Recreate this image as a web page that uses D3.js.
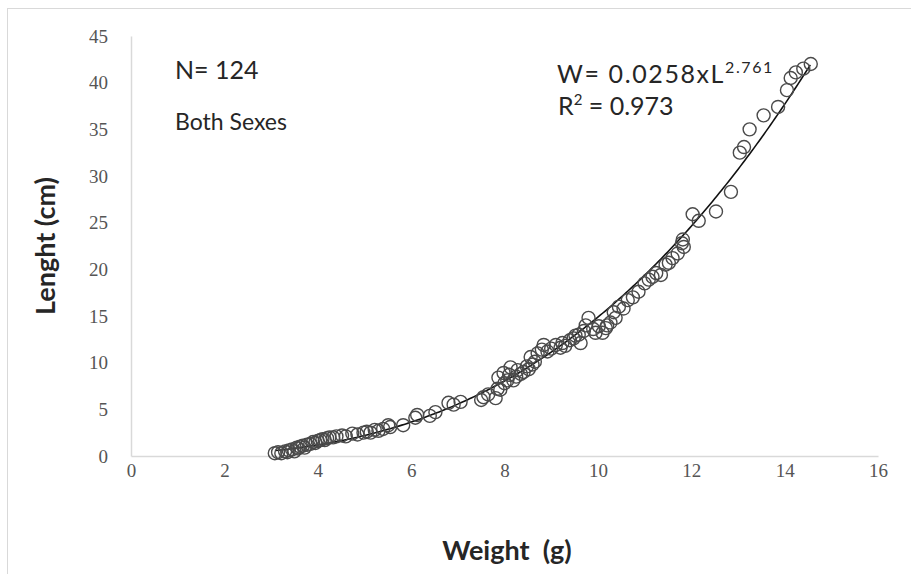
<!DOCTYPE html>
<html>
<head>
<meta charset="utf-8">
<script src="https://cdn.jsdelivr.net/npm/d3@7/dist/d3.min.js"></script>
<style>
  body { margin: 0; background: #fff; }
  svg { display: block; }
</style>
</head>
<body>
<svg class="chart"></svg>
<script>

// weight (g) of each fish
var weights = [
    3.08, 3.15, 3.22, 3.30, 3.35, 3.38, 3.45, 3.50, 3.55, 3.58, 3.62, 3.68, 3.72, 3.77,
    3.84, 3.90, 3.95, 4.00, 4.05, 4.10, 4.15, 4.20, 4.25, 4.33, 4.40, 4.52, 4.60, 4.74, 4.85,
    4.98, 5.05, 5.13, 5.22, 5.30, 5.40, 5.51, 5.55, 5.83, 6.09, 6.13, 6.40, 6.52, 6.80,
    6.91, 7.06, 7.50, 7.55, 7.65, 7.81,
    7.85, 7.91, 7.87, 7.98, 8.00, 8.06, 8.10, 8.13, 8.19, 8.25, 8.28, 8.35, 8.41, 8.48,
    8.52, 8.56, 8.60, 8.65, 8.71, 8.80, 8.84, 8.92, 9.00, 9.10, 9.20, 9.24, 9.30, 9.40,
    9.48, 9.52, 9.59, 9.63, 9.70, 9.74, 9.80, 9.90, 9.95, 10.02, 10.10, 10.17, 10.20,
    10.27, 10.34, 10.38, 10.45, 10.55,
    10.64, 10.75, 10.87, 11.00, 11.09, 11.17, 11.25, 11.35, 11.45, 11.52, 11.60, 11.71,
    11.80, 11.84, 11.82, 12.03, 12.16, 12.53,
    12.85, 13.04, 13.13, 13.25, 13.55, 13.86, 14.05, 14.13, 14.24, 14.40, 14.56
];

// length (cm) of each fish, same order
var lengths = [
    0.3, 0.4, 0.3, 0.5, 0.4, 0.6, 0.7, 0.5, 0.9, 0.8, 1.0, 1.1, 0.9, 1.2,
    1.3, 1.5, 1.4, 1.6, 1.7, 1.8, 1.7, 1.9, 2.0, 2.0, 2.1, 2.2, 2.1, 2.4, 2.3,
    2.5, 2.6, 2.5, 2.8, 2.7, 2.9, 3.3, 3.1, 3.3, 4.1, 4.4, 4.3, 4.7, 5.7,
    5.5, 5.8, 6.0, 6.3, 6.6, 6.2,
    7.2, 7.1, 8.4, 8.9, 7.8, 8.1, 8.7, 9.5, 8.1, 8.5, 9.2, 8.8, 9.0, 9.6,
    9.3, 10.6, 9.8, 10.1, 11.0, 11.4, 11.9, 11.2, 11.5, 11.9, 11.6, 12.1, 11.8, 12.4,
    12.6, 12.9, 13.0, 12.1, 13.4, 14.0, 14.8, 13.6, 13.2, 13.9, 13.2, 13.7, 14.0,
    14.3, 15.4, 14.8, 16.0, 15.8,
    16.7, 17.0, 17.6, 18.5, 18.9, 19.2, 19.6, 19.4, 20.5, 20.7, 21.2, 21.7,
    22.8, 22.4, 23.2, 25.9, 25.2, 26.2,
    28.3, 32.5, 33.1, 35.0, 36.5, 37.4, 39.2, 40.5, 41.1, 41.5, 42.0
];

// axis ticks
var xTicks = [0, 2, 4, 6, 8, 10, 12, 14, 16];
var yTicks = [0, 5, 10, 15, 20, 25, 30, 35, 40, 45];

// power trendline as printed on the chart
var fitA = 0.0258,
    fitB = 2.761,
    fitRange = [3.1, 14.55];

// wait until DOM has loaded
document.addEventListener("DOMContentLoaded", drawChart);

function drawChart() {

    var width = 911,
        height = 574;

    var svg = d3.select(".chart")
        .attr("width", width)
        .attr("height", height);

    // light frame around the chart area
    svg.append("rect")
        .attr("x", 7.5)
        .attr("y", 8.5)
        .attr("width", 1000)
        .attr("height", 1000)
        .attr("fill", "none")
        .attr("stroke", "#d9d9d9");

    var x = d3.scaleLinear()
        .domain([0, 16])
        .range([131, 878]);

    var y = d3.scaleLinear()
        .domain([0, 45])
        .range([456, 36]);

    drawXAxis(svg, x, y);
    drawYAxis(svg, x, y);
    drawTrend(svg, x, y);
    drawPoints(svg, x, y);
    drawNotes(svg);
}

// x axis with label
function drawXAxis(svg, x, y) {

    var g = svg.append("g")
        .attr("transform", "translate(0," + y(0) + ")")
        .call(d3.axisBottom(x).tickValues(xTicks).tickSize(0).tickPadding(8));

    g.select(".domain").attr("stroke", "#d9d9d9").attr("stroke-width", 1.5);
    g.selectAll("text")
        .attr("fill", "#555")
        .style("font-family", "'Liberation Serif', serif")
        .style("font-size", "19px");

    svg.append("text")
        .attr("x", 507)
        .attr("y", 560)
        .attr("text-anchor", "middle")
        .style("white-space", "pre")
        .style("font-family", "Lato, 'Open Sans', sans-serif")
        .style("font-weight", "bold")
        .style("font-size", "27px")
        .attr("fill", "#262626")
        .text("Weight  (g)");
}

// y axis with label
function drawYAxis(svg, x, y) {

    var g = svg.append("g")
        .attr("transform", "translate(" + x(0) + ",0)")
        .call(d3.axisLeft(y).tickValues(yTicks).tickSize(0).tickPadding(23));

    g.select(".domain").attr("stroke", "#d9d9d9").attr("stroke-width", 1.5);
    g.selectAll("text")
        .attr("fill", "#555")
        .style("font-family", "'Liberation Serif', serif")
        .style("font-size", "19px");

    svg.append("text")
        .attr("transform", "translate(55,246) rotate(-90)")
        .attr("text-anchor", "middle")
        .style("font-family", "Lato, 'Open Sans', sans-serif")
        .style("font-weight", "bold")
        .style("font-size", "27px")
        .attr("fill", "#262626")
        .text("Lenght (cm)");
}

// fitted curve W = a * L^b
function drawTrend(svg, x, y) {

    var steps = d3.range(fitRange[0], fitRange[1] + 0.001, 0.05);

    var line = d3.line()
        .x(function(d) { return x(d); })
        .y(function(d) { return y(fitA * Math.pow(d, fitB)); });

    svg.append("path")
        .datum(steps)
        .attr("d", line)
        .attr("fill", "none")
        .attr("stroke", "#111")
        .attr("stroke-width", 1.6);
}

// hollow circles for each fish
function drawPoints(svg, x, y) {

    svg.append("g")
        .selectAll("circle")
        .data(weights)
        .enter()
        .append("circle")
        .attr("cx", function(d) { return x(d); })
        .attr("cy", function(d, i) { return y(lengths[i]); })
        .attr("r", 6.5)
        .attr("fill", "none")
        .attr("stroke", "#4a4a4a")
        .attr("stroke-width", 1.4);
}

// sample size and equation notes
function drawNotes(svg) {

    var font = "Lato, 'Open Sans', sans-serif";

    svg.append("text")
        .attr("x", 175)
        .attr("y", 79)
        .style("font-family", font)
        .style("font-size", "25px")
        .attr("fill", "#262626")
        .text("N= 124");

    svg.append("text")
        .attr("x", 175)
        .attr("y", 130)
        .style("font-family", font)
        .style("font-size", "23px")
        .attr("fill", "#262626")
        .text("Both Sexes");

    var eq = svg.append("text")
        .attr("x", 557)
        .attr("y", 83)
        .style("font-family", font)
        .style("font-size", "25px")
        .style("letter-spacing", "1.6px")
        .attr("fill", "#262626");
    eq.append("tspan").text("W= 0.0258xL");
    eq.append("tspan")
        .attr("dy", -10)
        .style("font-size", "16px")
        .text("2.761");

    var r2 = svg.append("text")
        .attr("x", 558)
        .attr("y", 115)
        .style("font-family", font)
        .style("font-size", "25px")
        .attr("fill", "#262626");
    r2.append("tspan").text("R");
    r2.append("tspan")
        .attr("dy", -10)
        .style("font-size", "15px")
        .text("2");
    r2.append("tspan")
        .attr("dy", 10)
        .text(" = 0.973");
}
</script>
</body>
</html>
